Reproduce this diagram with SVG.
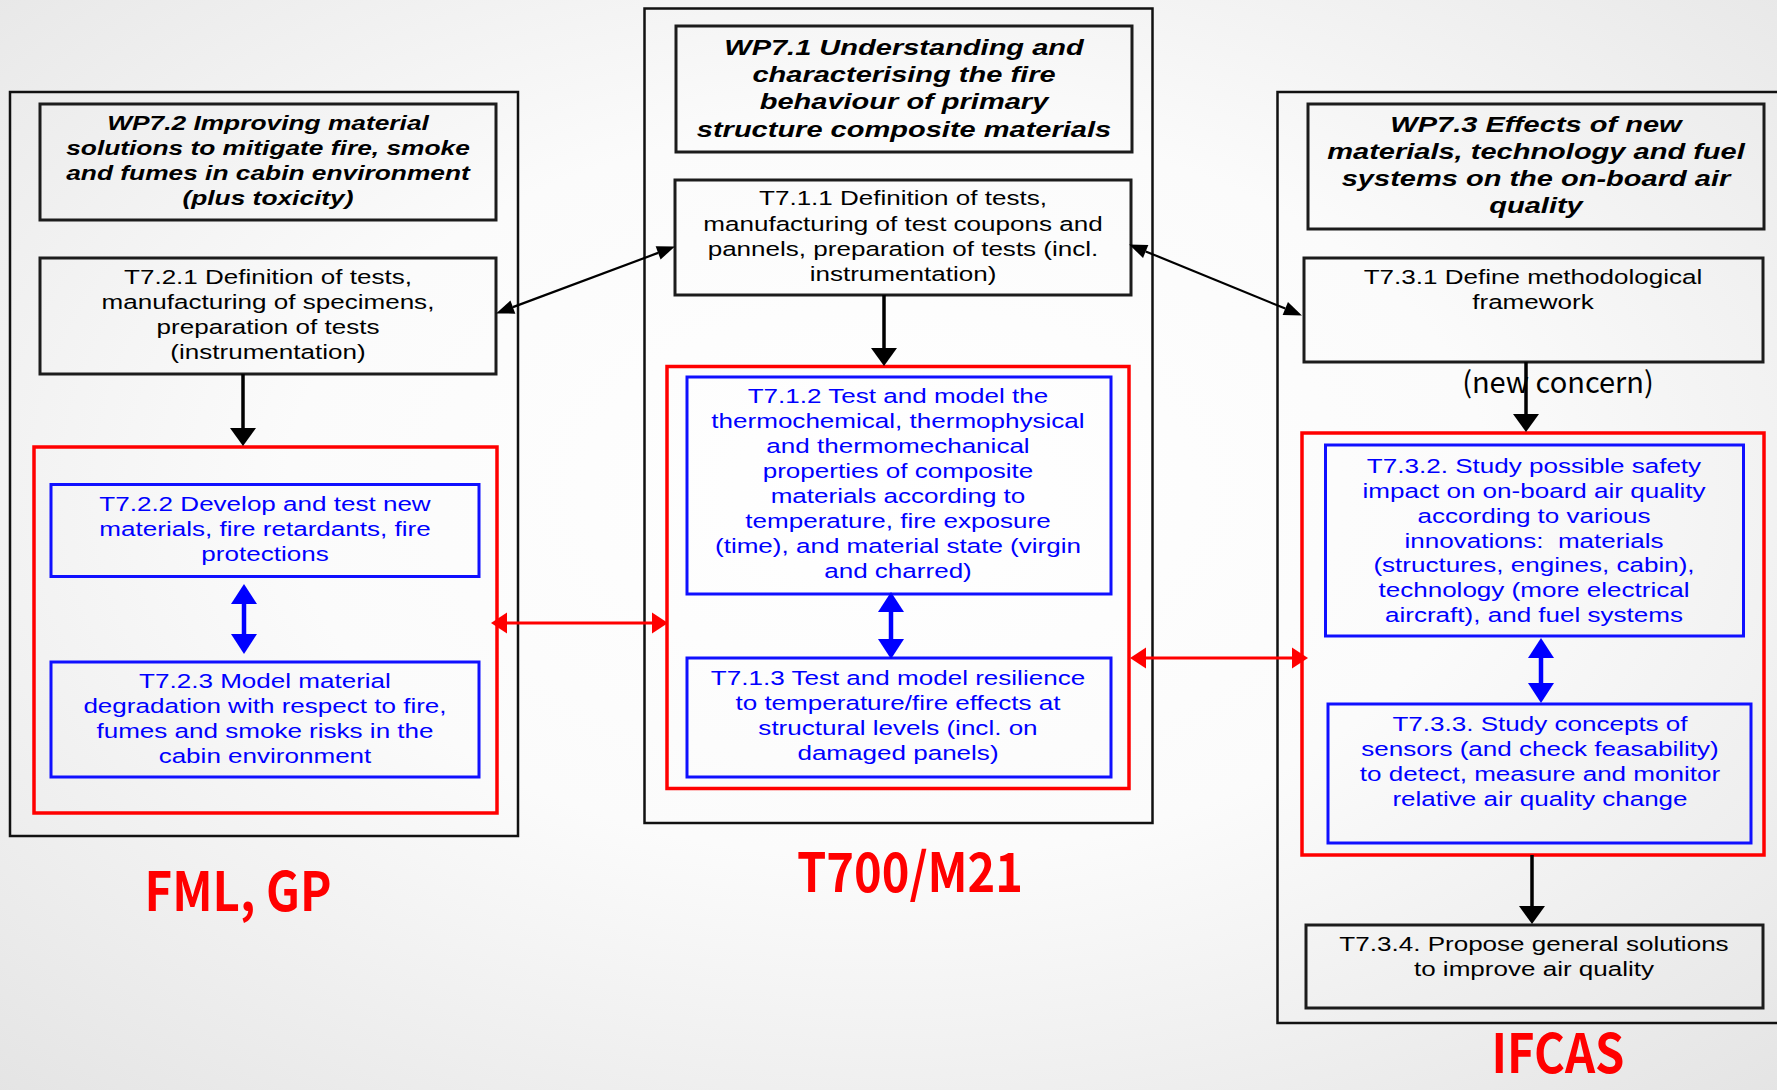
<svg xmlns="http://www.w3.org/2000/svg" width="1777" height="1090" viewBox="0 0 1777 1090">
<defs>
  <radialGradient id="bg" cx="50%" cy="45%" r="75%">
    <stop offset="0" stop-color="#ffffff"/>
    <stop offset="0.45" stop-color="#fbfbfb"/>
    <stop offset="1" stop-color="#e4e4e4"/>
  </radialGradient>
  <marker id="ahK" markerUnits="userSpaceOnUse" markerWidth="18" markerHeight="14" refX="0" refY="7" orient="auto-start-reverse" overflow="visible">
    <path d="M0,0 L18,7 L0,14 z" fill="#000"/>
  </marker>
  <marker id="ahD" markerUnits="userSpaceOnUse" markerWidth="18" markerHeight="26" refX="0" refY="13" orient="auto" overflow="visible">
    <path d="M0,0 L18,13 L0,26 z" fill="#000"/>
  </marker>
  <marker id="ahB" markerUnits="userSpaceOnUse" markerWidth="20" markerHeight="26" refX="0" refY="13" orient="auto-start-reverse" overflow="visible">
    <path d="M0,0 L20,13 L0,26 z" fill="#0000ff"/>
  </marker>
  <marker id="ahR" markerUnits="userSpaceOnUse" markerWidth="16" markerHeight="21" refX="0" refY="10.5" orient="auto-start-reverse" overflow="visible">
    <path d="M0,0 L16,10.5 L0,21 z" fill="#ff0000"/>
  </marker>
</defs>
<style>
  .outer { fill: none; stroke: #111; stroke-width: 2.5; }
  .kbox { fill: none; stroke: #1c1c1c; stroke-width: 3; }
  .rbox { fill: none; stroke: #ff0000; stroke-width: 3.5; }
  .bbox { fill: none; stroke: #1010ff; stroke-width: 3; }
  .t { font-family: "Liberation Sans", Arial, sans-serif; font-size: 19.3px; text-anchor: middle; fill: #000; }
  .bl { fill: #0000ff; }
  .h { font-weight: bold; font-style: italic; font-size: 19.5px; }
  .hl { font-size: 21.5px; }
  .lab { font-family: "Noto Sans CJK SC", "Noto Sans", sans-serif; font-weight: 700; font-size: 54px; fill: #ff0000; text-anchor: middle; }
  .nc { font-family: "Noto Sans CJK SC", "Open Sans", sans-serif; font-size: 29px; fill: #000; text-anchor: middle; }
  .kl { stroke: #000; stroke-width: 2.2; fill: none; }
  .kd { stroke: #000; stroke-width: 3.5; fill: none; }
  .bd { stroke: #0000ff; stroke-width: 4.5; fill: none; }
  .rd { stroke: #ff0000; stroke-width: 2.8; fill: none; }
</style>
<rect x="0" y="0" width="1777" height="1090" fill="url(#bg)"/>

<!-- Left column -->
<g id="wp72-frame"><rect class="outer" x="10" y="92" width="508" height="744"/></g>
<g id="wp72">
  <rect class="kbox" x="40" y="104" width="456" height="116"/>
  <g transform="matrix(1.35 0 0 1 -93.8 0)">
    <text class="t h" x="268" y="130">WP7.2 Improving material</text>
    <text class="t h" x="268" y="155">solutions to mitigate fire, smoke</text>
    <text class="t h" x="268" y="180">and fumes in cabin environment</text>
    <text class="t h" x="268" y="205">(plus toxicity)</text>
  </g>
</g>
<g id="t721">
  <rect class="kbox" x="40" y="258" width="456" height="116"/>
  <g transform="matrix(1.35 0 0 1 -93.8 0)">
    <text class="t" x="268" y="284">T7.2.1 Definition of tests,</text>
    <text class="t" x="268" y="309">manufacturing of specimens,</text>
    <text class="t" x="268" y="334">preparation of tests</text>
    <text class="t" x="268" y="359">(instrumentation)</text>
  </g>
</g>
<g id="wp72-core"><rect class="rbox" x="34" y="447" width="463" height="366"/></g>
<g id="t722">
  <rect class="bbox" x="51" y="484.5" width="428" height="92"/>
  <g transform="matrix(1.35 0 0 1 -92.75 0)">
    <text class="t bl" x="265" y="511">T7.2.2 Develop and test new</text>
    <text class="t bl" x="265" y="536">materials, fire retardants, fire</text>
    <text class="t bl" x="265" y="561">protections</text>
  </g>
</g>
<g id="t723">
  <rect class="bbox" x="51" y="662" width="428" height="115"/>
  <g transform="matrix(1.35 0 0 1 -92.75 0)">
    <text class="t bl" x="265" y="688">T7.2.3 Model material</text>
    <text class="t bl" x="265" y="713">degradation with respect to fire,</text>
    <text class="t bl" x="265" y="738">fumes and smoke risks in the</text>
    <text class="t bl" x="265" y="763">cabin environment</text>
  </g>
</g>

<!-- Center column -->
<g id="wp71-frame"><rect class="outer" x="644.5" y="8.5" width="508" height="814.5"/></g>
<g id="wp71">
  <rect class="kbox" x="676" y="26" width="456" height="126"/>
  <g transform="matrix(1.35 0 0 1 -316.4 0)">
    <text class="t h hl" x="904" y="55">WP7.1 Understanding and</text>
    <text class="t h hl" x="904" y="82">characterising the fire</text>
    <text class="t h hl" x="904" y="109">behaviour of primary</text>
    <text class="t h hl" x="904" y="137">structure composite materials</text>
  </g>
</g>
<g id="t711">
  <rect class="kbox" x="675" y="180" width="456" height="115"/>
  <g transform="matrix(1.35 0 0 1 -316.05 0)">
    <text class="t" x="903" y="205">T7.1.1 Definition of tests,</text>
    <text class="t" x="903" y="231">manufacturing of test coupons and</text>
    <text class="t" x="903" y="256">pannels, preparation of tests (incl.</text>
    <text class="t" x="903" y="281">instrumentation)</text>
  </g>
</g>
<g id="wp71-core"><rect class="rbox" x="667" y="366.5" width="462" height="422"/></g>
<g id="t712">
  <rect class="bbox" x="687" y="377" width="424" height="217"/>
  <g transform="matrix(1.35 0 0 1 -314.3 0)">
    <text class="t bl" x="898" y="403">T7.1.2 Test and model the</text>
    <text class="t bl" x="898" y="428">thermochemical, thermophysical</text>
    <text class="t bl" x="898" y="453">and thermomechanical</text>
    <text class="t bl" x="898" y="478">properties of composite</text>
    <text class="t bl" x="898" y="503">materials according to</text>
    <text class="t bl" x="898" y="528">temperature, fire exposure</text>
    <text class="t bl" x="898" y="553">(time), and material state (virgin</text>
    <text class="t bl" x="898" y="578">and charred)</text>
  </g>
</g>
<g id="t713">
  <rect class="bbox" x="687" y="658" width="424" height="119"/>
  <g transform="matrix(1.35 0 0 1 -314.3 0)">
    <text class="t bl" x="898" y="685">T7.1.3 Test and model resilience</text>
    <text class="t bl" x="898" y="710">to temperature/fire effects at</text>
    <text class="t bl" x="898" y="735">structural levels (incl. on</text>
    <text class="t bl" x="898" y="760">damaged panels)</text>
  </g>
</g>

<!-- Right column -->
<g id="wp73-frame"><rect class="outer" x="1277.5" y="92" width="520" height="931"/></g>
<g id="wp73">
  <rect class="kbox" x="1308" y="104" width="456" height="125"/>
  <g transform="matrix(1.35 0 0 1 -537.6 0)">
    <text class="t h hl" x="1536" y="132">WP7.3 Effects of new</text>
    <text class="t h hl" x="1536" y="159">materials, technology and fuel</text>
    <text class="t h hl" x="1536" y="186">systems on the on-board air</text>
    <text class="t h hl" x="1536" y="213">quality</text>
  </g>
</g>
<g id="t731">
  <rect class="kbox" x="1304" y="258" width="459" height="104"/>
  <g transform="matrix(1.35 0 0 1 -536.55 0)">
    <text class="t" x="1533" y="284">T7.3.1 Define methodological</text>
    <text class="t" x="1533" y="309">framework</text>
  </g>
</g>
<g id="wp73-core"><rect class="rbox" x="1302" y="433" width="462" height="422"/></g>
<g id="t732">
  <rect class="bbox" x="1325.5" y="445" width="418" height="191"/>
  <g transform="matrix(1.35 0 0 1 -536.9 0)">
    <text class="t bl" x="1534" y="473">T7.3.2. Study possible safety</text>
    <text class="t bl" x="1534" y="498">impact on on-board air quality</text>
    <text class="t bl" x="1534" y="523">according to various</text>
    <text class="t bl" x="1534" y="548" xml:space="preserve">innovations:  materials</text>
    <text class="t bl" x="1534" y="572">(structures, engines, cabin),</text>
    <text class="t bl" x="1534" y="597">technology (more electrical</text>
    <text class="t bl" x="1534" y="622">aircraft), and fuel systems</text>
  </g>
</g>
<g id="t733">
  <rect class="bbox" x="1328" y="704" width="423" height="139"/>
  <g transform="matrix(1.35 0 0 1 -539 0)">
    <text class="t bl" x="1540" y="731">T7.3.3. Study concepts of</text>
    <text class="t bl" x="1540" y="756">sensors (and check feasability)</text>
    <text class="t bl" x="1540" y="781">to detect, measure and monitor</text>
    <text class="t bl" x="1540" y="806">relative air quality change</text>
  </g>
</g>
<g id="t734">
  <rect class="kbox" x="1306" y="925" width="457" height="83"/>
  <g transform="matrix(1.35 0 0 1 -536.9 0)">
    <text class="t" x="1534" y="951">T7.3.4. Propose general solutions</text>
    <text class="t" x="1534" y="976">to improve air quality</text>
  </g>
</g>

<!-- Labels -->
<g id="labels">
  <text class="lab" x="238" y="911" textLength="187" lengthAdjust="spacingAndGlyphs">FML, GP</text>
  <text class="lab" x="910" y="892" textLength="226" lengthAdjust="spacingAndGlyphs">T700/M21</text>
  <text class="lab" x="1558" y="1073" textLength="133" lengthAdjust="spacingAndGlyphs">IFCAS</text>
  <text class="nc" x="1558" y="393">(new concern)</text>
</g>

<!-- Connectors -->
<g id="connectors">
  <line class="kl" x1="512.9" y1="307.1" x2="658.1" y2="252.9" marker-start="url(#ahK)" marker-end="url(#ahK)"/>
  <line class="kl" x1="1145.7" y1="251.4" x2="1285.3" y2="308.6" marker-start="url(#ahK)" marker-end="url(#ahK)"/>
  <line class="kd" x1="243" y1="374" x2="243" y2="428" marker-end="url(#ahD)"/>
  <line class="kd" x1="884" y1="295" x2="884" y2="348" marker-end="url(#ahD)"/>
  <line class="kd" x1="1526" y1="362" x2="1526" y2="414" marker-end="url(#ahD)"/>
  <line class="kd" x1="1532" y1="855" x2="1532" y2="906" marker-end="url(#ahD)"/>
  <line class="bd" x1="244" y1="604" x2="244" y2="634" marker-start="url(#ahB)" marker-end="url(#ahB)"/>
  <line class="bd" x1="891" y1="612" x2="891" y2="639" marker-start="url(#ahB)" marker-end="url(#ahB)"/>
  <line class="bd" x1="1541" y1="658" x2="1541" y2="683" marker-start="url(#ahB)" marker-end="url(#ahB)"/>
  <line class="rd" x1="507" y1="623" x2="652" y2="623" marker-start="url(#ahR)" marker-end="url(#ahR)"/>
  <line class="rd" x1="1146" y1="658" x2="1292" y2="658" marker-start="url(#ahR)" marker-end="url(#ahR)"/>
</g>
</svg>
